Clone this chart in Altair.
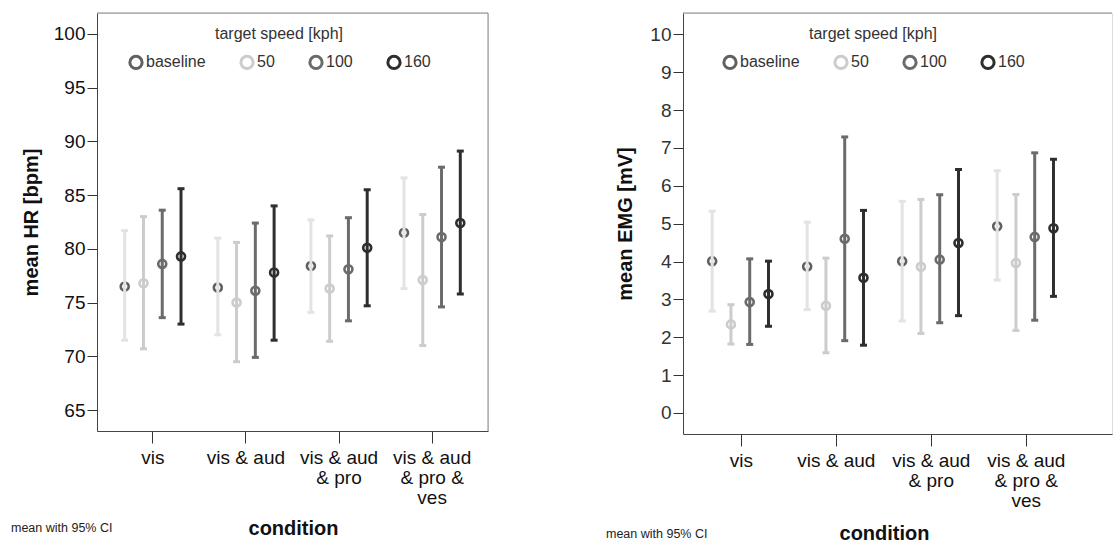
import altair as alt
import pandas as pd

# ---------------- data ----------------
conditions = ["vis", "vis & aud", "vis & aud\n& pro", "vis & aud\n& pro &\nves"]
speeds = ["baseline", "50", "100", "160"]

# HR [bpm]  rows = condition, cols = speed (baseline, 50, 100, 160)
hr_mean = [[76.5, 76.8, 78.6, 79.3],
           [76.4, 75.0, 76.1, 77.8],
           [78.4, 76.3, 78.1, 80.1],
           [81.5, 77.1, 81.1, 82.4]]
hr_low = [[71.5, 70.7, 73.6, 73.0],
          [72.0, 69.5, 69.9, 71.5],
          [74.1, 71.4, 73.3, 74.7],
          [76.3, 71.0, 74.6, 75.8]]
hr_high = [[81.7, 83.0, 83.6, 85.6],
           [81.0, 80.6, 82.4, 84.0],
           [82.7, 81.2, 82.9, 85.5],
           [86.6, 83.2, 87.6, 89.1]]

# EMG [mV]
emg_mean = [[4.01, 2.34, 2.93, 3.14],
            [3.87, 2.83, 4.60, 3.57],
            [4.01, 3.86, 4.05, 4.49],
            [4.93, 3.96, 4.65, 4.88]]
emg_low = [[2.69, 1.82, 1.81, 2.29],
           [2.73, 1.59, 1.91, 1.79],
           [2.43, 2.10, 2.38, 2.57],
           [3.51, 2.18, 2.45, 3.08]]
emg_high = [[5.33, 2.86, 4.07, 4.01],
            [5.04, 4.09, 7.29, 5.35],
            [5.59, 5.64, 5.76, 6.43],
            [6.40, 5.77, 6.87, 6.70]]

hr_ticks = [65, 70, 75, 80, 85, 90, 95, 100]
emg_ticks = [0, 1, 2, 3, 4, 5, 6, 7, 8, 9, 10]

point_colors = ["#606060", "#cccccc", "#6b6b6b", "#2e2e2e"]
bar_colors = ["#e3e3e3", "#cccccc", "#6b6b6b", "#2e2e2e"]

FONT = "Liberation Sans"


def table(mean, low, high):
    rows = []
    for i, c in enumerate(conditions):
        for j, s in enumerate(speeds):
            rows.append({"condition": c, "speed": s, "barcol": bar_colors[j],
                         "mean": mean[i][j], "low": low[i][j], "high": high[i][j]})
    return pd.DataFrame(rows)


def panel(df, width, height, ydomain, yticks, ytitle, ytitle_x, label_color,
          xscale, xtitle_x, xtitle_y, legend_x, legend_y, caption_x, caption_y,
          right_edge):
    x = alt.X("condition:N", sort=conditions, scale=xscale,
              axis=alt.Axis(title="condition", labelAngle=0, labelFontSize=19,
                            labelColor="#111", labelExpr="split(datum.label, '\\n')",
                            labelLineHeight=20, labelPadding=5, labelLimit=200,
                            tickSize=12, tickColor="#333", domainColor="#444",
                            titleFontSize=20, titleFontWeight="bold", titleColor="#111",
                            titleX=xtitle_x, titleY=xtitle_y, titleBaseline="middle",
                            titleAlign="center", titleAnchor="start"))
    xo = alt.XOffset("speed:N", sort=speeds,
                     scale=alt.Scale(paddingInner=0, paddingOuter=0.48))

    def ydef(field):
        return alt.Y(field, type="quantitative",
                     scale=alt.Scale(domain=ydomain, nice=False, zero=False),
                     axis=alt.Axis(values=yticks, title=ytitle, grid=False,
                                   labelFontSize=19, labelColor=label_color,
                                   labelPadding=2, tickSize=10, tickColor="#333",
                                   domainColor="#444", titleFontSize=20,
                                   titleFontWeight="bold", titleColor="#111",
                                   titleX=ytitle_x, titleBaseline="middle"))

    # mean markers -> legend (hollow circles)
    pcolor = alt.Color("speed:N", sort=speeds,
                       scale=alt.Scale(domain=speeds, range=point_colors),
                       legend=alt.Legend(title="target speed [kph]", orient="none",
                                         legendX=legend_x, legendY=legend_y,
                                         direction="horizontal", titleAnchor="middle",
                                         titleFontSize=16, titleFontWeight="normal",
                                         titleColor="#333", titlePadding=12,
                                         labelFontSize=16, labelColor="#333",
                                         labelOffset=2, symbolType="circle",
                                         symbolSize=150, symbolStrokeWidth=3,
                                         symbolOpacity=1, symbolFillColor="transparent",
                                         columnPadding=28, padding=0))
    # CI bars and caps: colour straight from the palette column (no scale, no legend)
    bstroke = alt.Stroke("barcol:N", scale=None)
    bfill = alt.Fill("barcol:N", scale=None)

    base = alt.Chart(df)
    points = base.mark_point(shape="circle", size=64, strokeWidth=2.6, filled=False,
                             opacity=1).encode(x=x, xOffset=xo,
                                               y=ydef("mean"), color=pcolor)
    bars = base.mark_rule(strokeWidth=3).encode(x=x, xOffset=xo, y=ydef("low"),
                                                y2="high:Q", stroke=bstroke)
    cap_lo = base.mark_tick(size=7, thickness=3, opacity=1).encode(
        x=x, xOffset=xo, y=ydef("low"), fill=bfill)
    cap_hi = base.mark_tick(size=7, thickness=3, opacity=1).encode(
        x=x, xOffset=xo, y=ydef("high"), fill=bfill)

    one = alt.Chart(pd.DataFrame({"k": [0]}))
    top_line = one.mark_rule(color="#8a8a8a", strokeWidth=1).encode(
        x=alt.value(0), x2=alt.value(width), y=alt.value(0))
    layers = [points, bars, cap_lo, cap_hi, top_line]
    if right_edge:
        right_line = one.mark_rule(color="#8a8a8a", strokeWidth=1).encode(
            x=alt.value(width), y=alt.value(0), y2=alt.value(height))
        layers.append(right_line)
    caption = one.mark_text(align="left", baseline="middle", fontSize=12.5,
                            color="#222", font=FONT).encode(
        x=alt.value(caption_x), y=alt.value(caption_y),
        text=alt.value("mean with 95% CI"))
    layers.append(caption)
    return alt.layer(*layers).properties(width=width, height=height)


left = panel(table(hr_mean, hr_low, hr_high), 391, 418, [63.05, 101.95], hr_ticks,
             "mean HR [bpm]", -66, "#111",
             alt.Scale(paddingInner=0, paddingOuter=0.1),
             196, 97, 31, 13, -86, 515, True)

right = panel(table(emg_mean, emg_low, emg_high), 429, 421, [-0.555, 10.563], emg_ticks,
              "mean EMG [mV]", -58, "#333",
              alt.Scale(paddingInner=0, paddingOuter=0.258, align=0.22),
              201, 99, 39, 13, -77, 521, False)

chart = alt.hconcat(left, right, spacing=195, bounds="flush").resolve_scale(
    color="independent"
).resolve_legend(color="independent").properties(
    padding={"left": 10, "top": 12, "right": 0, "bottom": 0}
).configure_view(stroke="transparent").configure(font=FONT)

chart.save("out.html", embed_options={"renderer": "svg", "actions": False})
